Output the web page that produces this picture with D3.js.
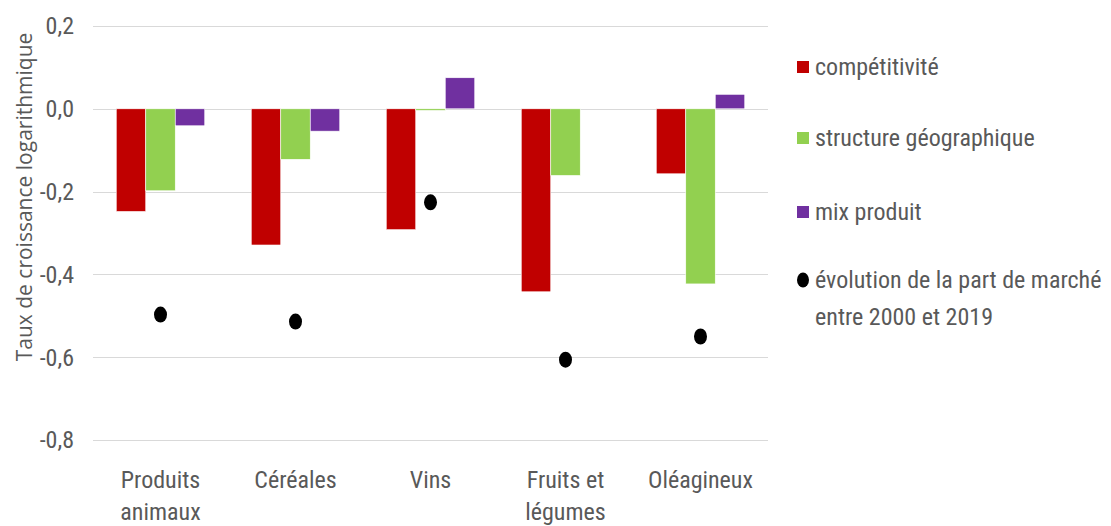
<!DOCTYPE html>
<html>
<head>
<meta charset="utf-8">
<script src="https://cdn.jsdelivr.net/npm/d3@7"></script>
<style>
  body { margin: 0; background: #fff; }
  svg text { fill: #595959; }
</style>
</head>
<body>
<div id="chart"></div>
<script>
// values
const categories = [["Produits", "animaux"], ["Céréales"], ["Vins"], ["Fruits et", "légumes"], ["Oléagineux"]];
const seriesNames = ["compétitivité", "structure géographique", "mix produit"];
const competitivite = [-0.248, -0.329, -0.292, -0.442, -0.157];
const structureGeo = [-0.198, -0.122, -0.004, -0.161, -0.423];
const mixProduit = [-0.041, -0.054, 0.075, 0.0, 0.035];
const evolution = [-0.497, -0.514, -0.226, -0.606, -0.550];
const yTicks = [0.2, 0, -0.2, -0.4, -0.6, -0.8];
const dotLabel = ["évolution de la part de marché", "entre 2000 et 2019"];

const colors = ["#C00000", "#92D050", "#7030A0"];
const width = 1111, height = 526;
const plot = { left: 93, right: 768, top: 26, bottom: 440 };
const labelFont = "'Liberation Sans Narrow', 'Arial Narrow', 'Roboto Condensed', sans-serif";

const svg = d3.select("#chart").append("svg")
    .attr("width", width)
    .attr("height", height);

const keys = categories.map(c => c.join(" "));
const x = d3.scaleBand().domain(keys).range([plot.left, plot.right]);
const y = d3.scaleLinear().domain([-0.8, 0.2]).range([plot.bottom, plot.top]);
const groupW = 88.5;
const x1 = d3.scaleBand().domain(seriesNames).range([0, groupW]);
const offset = (x.bandwidth() - groupW) / 2;

// grid lines
svg.append("g")
    .selectAll("line")
    .data(yTicks)
    .join("line")
    .attr("x1", plot.left).attr("x2", plot.right)
    .attr("y1", d => Math.round(y(d)) + 0.5)
    .attr("y2", d => Math.round(y(d)) + 0.5)
    .attr("stroke", "#d9d9d9")
    .attr("stroke-width", 1);

// tick labels
svg.append("g")
    .selectAll("text")
    .data(yTicks)
    .join("text")
    .attr("x", 74)
    .attr("y", d => y(d))
    .attr("dy", "0.35em")
    .attr("text-anchor", "end")
    .style("font-family", labelFont)
    .style("font-size", "24px")
    .text(d => d3.format(".1f")(d).replace(".", ",").replace("−", "-"));

// bars
const allSeries = [competitivite, structureGeo, mixProduit];
const barData = [];
allSeries.forEach((vals, si) => {
    vals.forEach((v, ci) => barData.push({ s: seriesNames[si], si: si, cat: keys[ci], v: v }));
});

svg.append("g")
    .selectAll("rect")
    .data(barData.filter(d => d.v !== 0))
    .join("rect")
    .attr("x", d => x(d.cat) + offset + x1(d.s))
    .attr("width", x1.bandwidth())
    .attr("y", d => y(Math.max(0, d.v)))
    .attr("height", d => Math.max(1, Math.abs(y(d.v) - y(0))))
    .attr("fill", d => colors[d.si])
    .attr("stroke", "#fff")
    .attr("stroke-width", 0.6);

// market share dots
svg.append("g")
    .selectAll("ellipse")
    .data(evolution)
    .join("ellipse")
    .attr("cx", (d, i) => x(keys[i]) + x.bandwidth() / 2)
    .attr("cy", d => y(d))
    .attr("rx", 6.5)
    .attr("ry", 8)
    .attr("fill", "#000");

// category labels
const catG = svg.append("g");
categories.forEach((lines, i) => {
    const t = catG.append("text")
        .attr("x", x(keys[i]) + x.bandwidth() / 2)
        .attr("y", 488)
        .attr("text-anchor", "middle")
        .style("font-family", labelFont)
        .style("font-size", "24px");
    lines.forEach((l, j) => {
        t.append("tspan")
            .attr("x", x(keys[i]) + x.bandwidth() / 2)
            .attr("dy", j === 0 ? 0 : 32)
            .text(l);
    });
});

// y axis title
svg.append("text")
    .attr("transform", "translate(32,197) rotate(-90)")
    .attr("text-anchor", "middle")
    .style("font-family", "'Open Sans', sans-serif")
    .style("font-size", "21px")
    .text("Taux de croissance logarithmique");

// legend
const legend = svg.append("g").style("font-family", labelFont).style("font-size", "24px");
const legendY = [67, 138, 212];
seriesNames.forEach((name, i) => {
    legend.append("rect")
        .attr("x", 797).attr("y", legendY[i] - 6)
        .attr("width", 12).attr("height", 12)
        .attr("fill", colors[i]);
    legend.append("text")
        .attr("x", 815).attr("y", legendY[i])
        .attr("dy", "0.35em")
        .text(name);
});
legend.append("ellipse")
    .attr("cx", 803).attr("cy", 280)
    .attr("rx", 6).attr("ry", 7.5)
    .attr("fill", "#000");
dotLabel.forEach((l, j) => {
    legend.append("text")
        .attr("x", 815).attr("y", 280 + j * 37)
        .attr("dy", "0.35em")
        .text(l);
});
</script>
</body>
</html>
